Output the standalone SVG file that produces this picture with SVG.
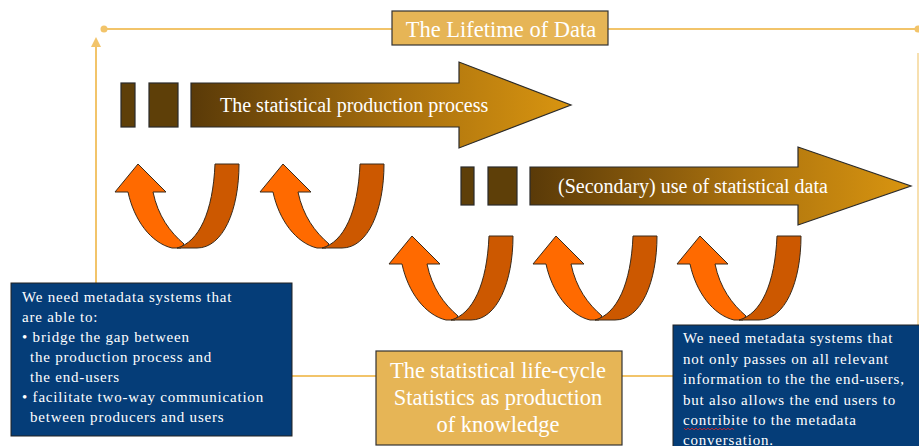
<svg xmlns="http://www.w3.org/2000/svg" width="919" height="446" viewBox="0 0 919 446">
<defs>
<style>
.frame{stroke:#F2C46A;stroke-width:2;fill:none}
.gold{fill:#E6B556;stroke:#333;stroke-width:1.2}
.blue{fill:#053D78;stroke:#222;stroke-width:1}
.blk{fill:#5E3F08;stroke:#2a2a2a;stroke-width:1.2}
.arr{fill:url(#ag);stroke:#2a2a2a;stroke-width:1.2}
.lt{fill:#FF6A00;stroke:#3a2a1a;stroke-width:1}
.dk{fill:#CC5800;stroke:#3a2a1a;stroke-width:1}
.t{font-family:"Liberation Serif","Times New Roman",serif;fill:#fff}
.sm{font-size:15px;letter-spacing:0.8px}
</style>
<linearGradient id="ag" x1="0" y1="0" x2="1" y2="0">
<stop offset="0" stop-color="#5A3A08"/>
<stop offset="0.55" stop-color="#A8700E"/>
<stop offset="1" stop-color="#D99510"/>
</linearGradient>
<g id="u">
<path class="lt" d="M23,0 L51,28 L38,28 C43,52 55,68 69,80 L66,84 L57,84 C36,79 19,56 13,28 L0,28 Z"/>
<path class="dk" d="M100,0 L124,0 C124,46 108,84 82,84 L62,84 C84,78 98,48 100,0 Z"/>
</g>
</defs>
<g id="connectors">
<line class="frame" x1="104" y1="29" x2="918" y2="29"/>
<circle cx="104" cy="29" r="3.5" fill="#F2C46A"/>
<circle cx="918" cy="29" r="3.5" fill="#F2C46A"/>
<line class="frame" x1="96" y1="46" x2="96" y2="283"/>
<polygon points="96,37 91,47 101,47" fill="#F2C46A"/>
<line x1="918" y1="53" x2="918" y2="325" stroke="#F7E0B0" stroke-width="2"/>
<line class="frame" x1="292" y1="376" x2="376" y2="376"/>
<line class="frame" x1="622" y1="376" x2="673" y2="376"/>
</g>
<g id="title">
<rect class="gold" x="392" y="11" width="216" height="34"/>
<text class="t" x="501" y="37" font-size="22.5" text-anchor="middle">The Lifetime of Data</text>
</g>
<g id="production-arrow">
<rect class="blk" x="121" y="83" width="14" height="44"/>
<rect class="blk" x="149" y="83" width="29" height="44"/>
<polygon class="arr" points="191,83 459,83 459,62 571,105 459,148 459,127 191,127"/>
<text class="t" x="220" y="112" font-size="20">The statistical production process</text>
</g>
<g id="use-arrow">
<rect class="blk" x="461" y="167" width="13" height="38"/>
<rect class="blk" x="488" y="167" width="29" height="38"/>
<polygon class="arr" points="530,167 798,167 798,147 911,186 798,225 798,205 530,205"/>
<text class="t" x="558" y="193" font-size="20">(Secondary) use of statistical data</text>
</g>
<g id="loop1"><use href="#u" x="115" y="164"/></g>
<g id="loop2"><use href="#u" x="260" y="164"/></g>
<g id="loop3"><use href="#u" x="389" y="236"/></g>
<g id="loop4"><use href="#u" x="533" y="236"/></g>
<g id="loop5"><use href="#u" x="677" y="236"/></g>
<g id="left-note">
<rect class="blue" x="11" y="283" width="281" height="153"/>
<text class="t sm" x="22" y="302">We need metadata systems that</text>
<text class="t sm" x="22" y="322">are able to:</text>
<text class="t sm" x="22" y="342">• bridge the gap between</text>
<text class="t sm" x="30" y="362">the production process and</text>
<text class="t sm" x="30" y="382">the end-users</text>
<text class="t sm" x="22" y="402">• facilitate two-way communication</text>
<text class="t sm" x="30" y="422">between producers and users</text>
</g>
<g id="center-box">
<rect class="gold" x="376" y="351" width="246" height="94"/>
<text class="t" x="498" y="378" font-size="22.5" text-anchor="middle">The statistical life-cycle</text>
<text class="t" x="498" y="405" font-size="22.5" text-anchor="middle">Statistics as production</text>
<text class="t" x="498" y="432" font-size="22.5" text-anchor="middle">of knowledge</text>
</g>
<g id="right-note">
<rect class="blue" x="673" y="325" width="250" height="125"/>
<text class="t sm" x="683" y="343">We need metadata systems that</text>
<text class="t sm" x="683" y="364">not only passes on all relevant</text>
<text class="t sm" x="683" y="384">information to the the end-users,</text>
<text class="t sm" x="683" y="405">but also allows the end users to</text>
<text class="t sm" x="683" y="425">contribite to the metadata</text>
<text class="t sm" x="683" y="445">conversation.</text>
<path d="M684,428 l2,2 l2,-2 l2,2 l2,-2 l2,2 l2,-2 l2,2 l2,-2 l2,2 l2,-2 l2,2 l2,-2 l2,2 l2,-2 l2,2 l2,-2 l2,2 l2,-2 l2,2 l2,-2 l2,2 l2,-2 l2,2 l2,-2 l2,2" fill="none" stroke="#E02020" stroke-width="0.8"/>
</g>
</svg>
